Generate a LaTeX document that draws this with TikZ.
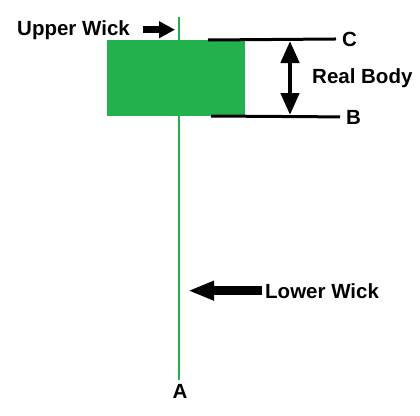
\documentclass[tikz,border=0pt]{standalone}
\usepackage{fontspec}
\setmainfont{Liberation Sans}
\usepackage{xcolor}
\usetikzlibrary{arrows.meta}
\definecolor{candlegreen}{RGB}{34,177,76}

\begin{document}
\begin{tikzpicture}[x=1pt, y=-1pt,
    lbl/.style={font=\fontsize{20.5}{23}\selectfont\bfseries, inner sep=0pt},
    level/.style={line width=3pt, shorten >=6pt},
    pointer/.style={line width=#1, -{Triangle[length=16pt, width=16pt]}}]
  \useasboundingbox (0,0) rectangle (420,415);

  % Wick
  \coordinate (wicktop) at (179,17);
  \coordinate (wickbot) at (179,380);
  \draw[candlegreen, line width=2.6pt] (wicktop) -- (wickbot);

  % Body
  \node[fill=candlegreen, minimum width=138pt, minimum height=76pt, inner sep=0pt] (body) at (176,78) {};

  % Labels
  \node[lbl, anchor=base west] (uw) at (17,35) {Upper Wick};
  \node[lbl, anchor=base west] (lw) at (265,298) {Lower Wick};
  \node[lbl, anchor=base west] (rb) at (312,83) {Real Body};
  \node[lbl, anchor=base west] (c) at (342,46) {C};
  \node[lbl, anchor=base west] (b) at (346,124) {B};
  \node[lbl, anchor=base] (a) at (180,398) {A};

  % Levels
  \coordinate (ctop) at (208,40);
  \coordinate (bbot) at (211,116);
  \draw[level] (ctop) -- (c.west);
  \draw[level] (bbot) -- (b.west);

  % Real body arrow
  \coordinate (rbtop) at (290,41);
  \coordinate (rbbot) at (290,115);
  \draw[line width=4.5pt, {Triangle[length=22pt, width=18pt]}-{Triangle[length=22pt, width=18pt]}] (rbtop) -- (rbbot);

  % Wick arrows
  \draw[pointer=7pt] ([xshift=13pt]uw.east) -- (uw.east -| wicktop) [shorten >=4pt];
  \draw[line width=9pt, -{Triangle[length=26pt, width=18pt]}, shorten >=9pt] ([xshift=-3pt]lw.west) -- (lw.west -| wickbot);
\end{tikzpicture}
\end{document}
